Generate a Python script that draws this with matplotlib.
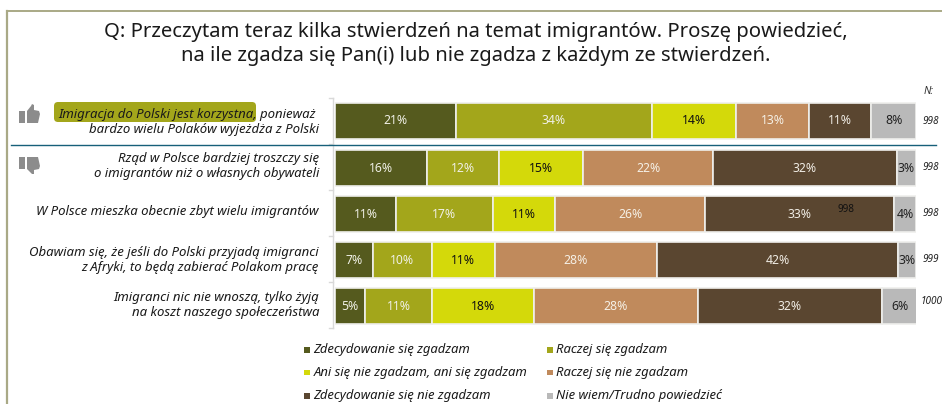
import matplotlib
matplotlib.use("Agg")
import matplotlib.pyplot as plt
from matplotlib.patches import Polygon, FancyBboxPatch, Rectangle

plt.rcParams['font.family'] = ['Noto Sans', 'DejaVu Sans']

title_lines = "Q: Przeczytam teraz kilka stwierdzeń na temat imigrantów. Proszę powiedzieć,\nna ile zgadza się Pan(i) lub nie zgadza z każdym ze stwierdzeń."
questions = [
    "Imigracja do Polski jest korzystna, ponieważ \nbardzo wielu Polaków wyjeżdża z Polski",
    "Rząd w Polsce bardziej troszczy się\no imigrantów niż o własnych obywateli",
    "W Polsce mieszka obecnie zbyt wielu imigrantów",
    "Obawiam się, że jeśli do Polski przyjadą imigranci\nz Afryki, to będą zabierać Polakom pracę",
    "Imigranci nic nie wnoszą, tylko żyją\nna koszt naszego społeczeństwa",
]
categories = ["Zdecydowanie się zgadzam", "Raczej się zgadzam",
              "Ani się nie zgadzam, ani się zgadzam", "Raczej się nie zgadzam",
              "Zdecydowanie się nie zgadzam", "Nie wiem/Trudno powiedzieć"]
s1 = [20.8, 15.8, 10.5, 6.5, 5.2]
s2 = [33.7, 12.4, 16.7, 10.2, 11.5]
s3 = [14.5, 14.5, 10.7, 10.8, 17.6]
s4 = [12.6, 22.4, 25.8, 27.9, 28.1]
s5 = [10.7, 31.6, 32.5, 41.5, 31.7]
s6 = [7.7, 3.3, 3.8, 3.1, 6.2]
labels1 = [21, 16, 11, 7, 5]
labels2 = [34, 12, 17, 10, 11]
labels3 = [14, 15, 11, 11, 18]
labels4 = [13, 22, 26, 28, 28]
labels5 = [11, 32, 33, 42, 32]
labels6 = [8, 3, 4, 3, 6]
n_values = ["998", "998", "998", "999", "1000"]
colors = ["#555a1e", "#a3a61b", "#d4d90a", "#c08a5c", "#5a4630", "#b9b9b9"]
text_colors = ["#f0f0e6", "#f0f0e6", "#111111", "#f5f0e6", "#f0ece4", "#222222"]

W, H = 942, 404
fig = plt.figure(figsize=(W/100, H/100), dpi=100, facecolor="white")
bg = fig.add_axes([0, 0, 1, 1])
bg.set_xlim(0, W); bg.set_ylim(H, 0); bg.axis("off")

x0, x1 = 335, 916
ax = fig.add_axes([x0/W, 1-326/H, (x1-x0)/W, (326-100)/H])
ax.set_xlim(0, 100); ax.axis("off")
ypx = [120.5, 167.5, 213.5, 259.5, 305.5]
ax.set_ylim(326, 100)

series = [s1, s2, s3, s4, s5, s6]
labs = [labels1, labels2, labels3, labels4, labels5, labels6]
left = [0.0]*5
for vals, lab, c, tc in zip(series, labs, colors, text_colors):
    ax.barh(ypx, vals, left=left, height=36, color=c, edgecolor="#efefec", linewidth=1.2)
    for i, v in enumerate(vals):
        ax.text(left[i]+v/2, ypx[i]+0.5, f"{lab[i]}%", ha="center", va="center", fontsize=8.8, color=tc)
    left = [l+v for l, v in zip(left, vals)]

# frame, axis, separator
bg.plot([7, 7], [10.5, 404], color="#a9a986", lw=1.6)
bg.plot([7, 942], [10.5, 10.5], color="#a9a986", lw=1.4)
bg.plot([333, 333], [98, 328], color="#d9d9d9", lw=1)
for y in [98, 144, 190, 236, 282, 328]:
    bg.plot([329, 333], [y, y], color="#d9d9d9", lw=1)
bg.plot([11, 936], [144.5, 144.5], color="#17607a", lw=1)

# title
bg.text(476, 44, title_lines, ha="center", va="center", fontsize=14.6, color="#1a1a1a", linespacing=1.22)

# highlight
bg.add_patch(FancyBboxPatch((54, 102), 202, 20, boxstyle="round,pad=0,rounding_size=4",
                            fc="#a3a61b", ec="none", zorder=1))
# row labels
text_y = [122, 166, 212, 260, 305]
for y, q in zip(text_y, questions):
    bg.text(319, y, q, ha="right", va="center", style="italic",
            fontsize=9.5, color="#1a1a1a", linespacing=1.25, zorder=3)

# N
bg.text(929, 91, "N:", ha="center", va="center", style="italic", fontsize=7.5, color="#333333")
n_y = [122, 168, 214, 260, 302]
n_x = [931, 931, 931, 931, 932]
for y, x, n in zip(n_y, n_x, n_values):
    bg.text(x, y, n, ha="center", va="center", style="italic", fontsize=7.2, color="#222222")
bg.text(846, 210, "998", ha="center", va="center", fontsize=7.2, color="#111111", zorder=6)
bg.set_zorder(2); bg.patch.set_alpha(0)
ax.set_zorder(1)

# thumbs
g = "#8c8c8c"
bg.add_patch(Rectangle((19, 111), 6, 12, fc=g, ec="none"))
bg.add_patch(Polygon([(27, 111), (31, 106), (32, 104), (34, 105), (34, 110), (39, 111), (40, 114), (38, 123), (27, 123)], fc=g, ec="none"))
bg.add_patch(Rectangle((19, 157), 6, 12, fc=g, ec="none"))
bg.add_patch(Polygon([(27, 157), (38, 157), (40, 166), (39, 169), (34, 170), (34, 174), (32, 174), (31, 173), (27, 169)], fc=g, ec="none"))

# legend
lx = [307, 550]
ly = [350, 372.5, 396]
for i, (cat, c) in enumerate(zip(categories, colors)):
    col, row = i % 2, i // 2
    bg.add_patch(Rectangle((lx[col]-3, ly[row]-3), 5.5, 5.5, fc=c, ec="none"))
    bg.text(lx[col]+6.5, ly[row], cat, ha="left", va="center", style="italic", fontsize=9.4, color="#1a1a1a")

fig.savefig("out.png", dpi=100)
